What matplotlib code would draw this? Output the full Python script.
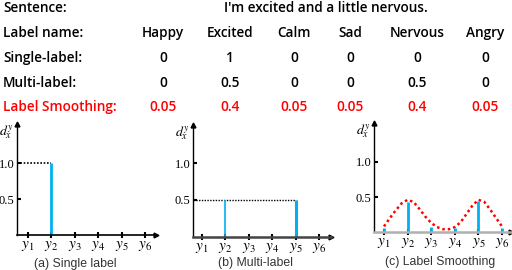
import matplotlib.pyplot as plt

plt.rcParams['mathtext.fontset'] = 'stix'

# table data
sentence = "I'm excited and a little nervous."
label_names = ["Happy", "Excited", "Calm", "Sad", "Nervous", "Angry"]
single_label = [0, 1, 0, 0, 0, 0]
multi_label = [0, 0.5, 0, 0, 0.5, 0]
smooth_label = [0.05, 0.4, 0.05, 0.05, 0.4, 0.05]

# bars drawn in panel (c), as they appear in the picture
smooth_bars = [0.06, 0.43, 0.07, 0.06, 0.44, 0.06]
# dotted red curve in panel (c)
curve_x = [1, 1.25, 1.5, 1.75, 2, 2.25, 2.5, 2.75, 3, 3.25, 3.5,
           3.75, 4, 4.25, 4.5, 4.75, 5, 5.25, 5.5, 5.75, 6]
curve_y = [0.08, 0.20, 0.31, 0.41, 0.46, 0.43, 0.33, 0.22, 0.13, 0.07, 0.04,
           0.04, 0.07, 0.14, 0.26, 0.38, 0.46, 0.43, 0.32, 0.20, 0.08]

ticks = [1, 2, 3, 4, 5, 6]
tick_labels = ["$y_%d$" % i for i in ticks]
captions = ["(a) Single label", "(b) Multi-label", "(c) Label Smoothing"]

W, H = 512, 270
fig = plt.figure(figsize=(W / 100, H / 100), dpi=100)

# ---- table on top ----
col_x = [163, 230, 294, 350, 417, 485]
row_y = [8, 33, 58, 83, 107]
tfont = dict(family="Open Sans", fontsize=9.8, fontweight=600, va="baseline")

def ftxt(px, py, s, **kw):
    fig.text(px / W, 1 - py / H, s, **kw)

# baseline sits ~4 px below the visual centre of the row
ftxt(3, row_y[0] + 4, "Sentence:", ha="left", **tfont)
ftxt(326, row_y[0] + 4, sentence, ha="center", **tfont)
ftxt(3, row_y[1] + 4, "Label name:", ha="left", **tfont)
for x, name in zip(col_x, label_names):
    ftxt(x, row_y[1] + 4, name, ha="center", **tfont)

rows = [("Single-label:", single_label, "black"),
        ("Multi-label:", multi_label, "black"),
        ("Label Smoothing:", smooth_label, "#ff0000")]
for (title, vals, col), y in zip(rows, row_y[2:]):
    ftxt(3, y + 4, title, ha="left", color=col, **tfont)
    for x, v in zip(col_x, vals):
        ftxt(x, y + 4, format(v, "g"), ha="center", color=col, **tfont)

# ---- three small charts ----
# pixel geometry: y-axis x, y1 x, tick step, x-axis y, 0.5 y, arrow right, arrow top
panels = [
    dict(yax=17, x1=28, step=23.4, xax=235, half=199, right=156, top=124, axcol="black", axlw=1.2),
    dict(yax=193, x1=202, step=23.4, xax=237, half=200, right=331, top=125, axcol="#444444", axlw=1.8),
    dict(yax=374, x1=384, step=23.6, xax=232, half=197, right=511, top=123, axcol="#b0b0b0", axlw=1.8),
]
cap_pos = [(75, 264), (255, 263), (440, 262)]
blue = "#00b0f0"

axes = []
for p in panels:
    ax = fig.add_axes([p["yax"] / W, 1 - p["xax"] / H,
                       (p["right"] - p["yax"]) / W, (p["xax"] - p["top"]) / H])
    ax.set_xlim(1 - (p["x1"] - p["yax"]) / p["step"], 1 + (p["right"] - p["x1"]) / p["step"])
    ax.set_ylim(0, (p["xax"] - p["top"]) / (p["xax"] - p["half"]) * 0.5)
    ax.patch.set_alpha(0)
    for s in ["top", "right"]:
        ax.spines[s].set_visible(False)
    ax.spines["left"].set_linewidth(1.0)
    ax.spines["bottom"].set_color(p["axcol"])
    ax.spines["bottom"].set_linewidth(p["axlw"])
    ax.plot(1, 0, ">", color="black", ms=3.5, transform=ax.transAxes, clip_on=False)
    ax.plot(0, 1, "^", color="black", ms=3.5, transform=ax.transAxes, clip_on=False)
    ax.set_xticks(ticks)
    ax.set_xticklabels(tick_labels, fontsize=11)
    ax.tick_params(axis="x", direction="inout", length=4, width=1.5, pad=0, colors="black")
    ax.set_yticks([0.5, 1.0])
    ax.set_yticklabels(["0.5", "1.0"], fontsize=9, family="Liberation Serif")
    ax.tick_params(axis="y", direction="in", length=3, width=1.5, pad=2)
    ax.annotate("$d_x^y$", xy=(0, 1), xycoords="axes fraction", xytext=(-8, -6),
                textcoords="offset points", ha="center", va="center", fontsize=10)
    axes.append(ax)

for (cx, cy), cap in zip(cap_pos, captions):
    ftxt(cx, cy, cap, ha="center", va="center", family="Liberation Sans", fontsize=8.8, color="#333333")

xmin_a = axes[0].get_xlim()[0]
axes[0].hlines(1.0, xmin_a, 2, colors="black", linestyles=(0, (1, 1)), lw=1.2)
for x, v in zip(ticks, single_label):
    if v > 0:
        axes[0].vlines(x, 0, v, colors=blue, lw=2)

xmin_b = axes[1].get_xlim()[0]
axes[1].hlines(0.5, xmin_b, 5, colors="black", linestyles=(0, (1, 1)), lw=1.0)
bar_w = [1.2, 1.2, 1.2, 1.2, 2.2, 1.2]
for x, v, w in zip(ticks, multi_label, bar_w):
    if v > 0:
        axes[1].vlines(x, 0, v, colors=blue, lw=w)

axes[2].plot(curve_x, curve_y, color="#ff0000", lw=1.8, linestyle=(0, (1, 1.2)))
axes[2].vlines(ticks, 0, smooth_bars, colors=blue, lw=2)

fig.savefig("out.png", dpi=100)
